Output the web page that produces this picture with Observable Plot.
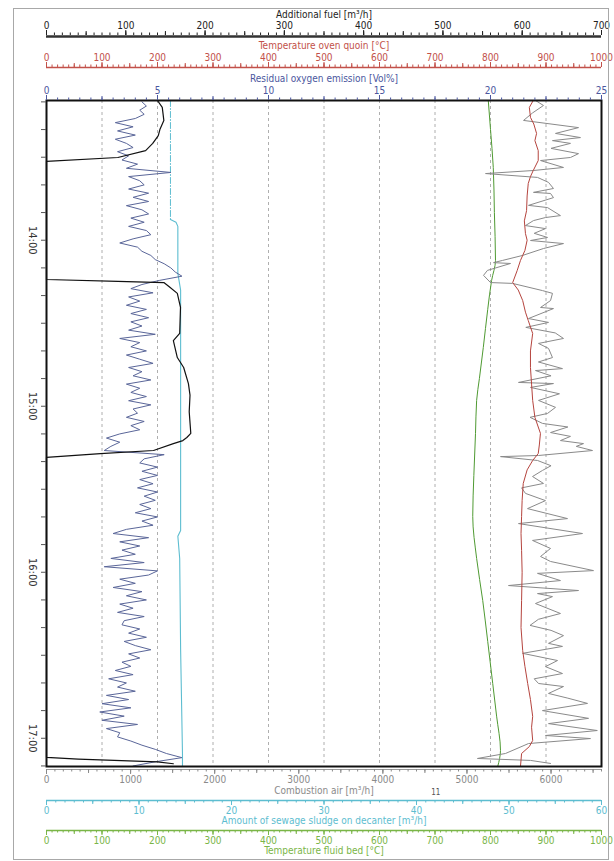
<!DOCTYPE html>
<html><head><meta charset="utf-8">
<script src="https://cdn.jsdelivr.net/npm/d3@7"></script>
<script src="https://cdn.jsdelivr.net/npm/@observablehq/plot@0.6"></script>
<style>
body{margin:0;background:#fff;}
#wrap{position:relative;width:614px;height:861px;}
#border{position:absolute;left:13px;top:8px;width:594px;height:850px;border:1px solid #a8a8a8;pointer-events:none;}
</style></head><body><div id="wrap"><div id="border"></div></div>
<script>
// ---- time base: minutes after 13:00 ----
const T0 = Date.UTC(2000, 0, 1, 13, 0);
const toDate = m => new Date(T0 + m * 60000);
const timeStart = 9.5, timeEnd = 250.2;

// ---- axis maxima / tick labels ----
const fuelMax = 700,   fuelTicks = [0,100,200,300,400,500,600,700];
const ovenMax = 1000,  ovenTicks = [0,100,200,300,400,500,600,700,800,900,1000];
const oxyMax = 25,     oxyTicks = [0,5,10,15,20,25];
const airMax = 6600,   airTicks = [0,1000,2000,3000,4000,5000,6000];
const sludgeMax = 60,  sludgeTicks = [0,10,20,30,40,50,60];
const bedMax = 1000,   bedTicks = [0,100,200,300,400,500,600,700,800,900,1000];
const gridFractions = [0.1,0.2,0.3,0.4,0.5,0.6,0.7,0.8,0.9];
const hourLabels = [60, 120, 180, 240];

// ---- Additional fuel [m³/h] ----
const fuelTime  = [9.5,12,16.7,20,22.2,25.0,27.6,30.1,31.5,74.2,74.9,75.3,77.1,79.2,84.3,93.7,96.3,102.4,106.0,111.8,116,122,129.8,131.3,132.4,133.5,136.0,137.1,138.5,246.9,247.5,248.5,249.2];
const fuelValue = [140,146,148,143,141,134,125,90,0,0,90,148,156,165,169,168,160,165,173,179,181,180,182,177,172,160,135,68,0,0,40,140,160];

// ---- Temperature oven quoin [°C] ----
const ovenTime  = [9.5,12,15.6,18,21.4,24,27.6,31.2,34.8,37,39.5,44,49.3,53,57.6,60,63.7,67.3,71,75.3,78,81.8,86,89.0,93.7,100,106.0,112,117.9,124,129.8,134,137.1,139.6,143,147.9,154,159.8,166,172.1,180,190.2,200,208.3,214,220.2,226,232.1,236,240.8,243,245.5,250.2];
const ovenValue = [877,870,872,878,883,880,886,886,877,872,868,866,865,861,863,866,862,854,848,840,850,858,863,868,876,872,872,874,876,880,890,888,886,876,866,859,857,856,855,856,857,856,855,858,862,867,872,876,874,876,870,856,854];

// ---- Temperature fluid bed [°C] ----
const bedTime  = [9.5,20,33.7,50,67.3,74.5,85,98.8,110,117.9,129.8,145,159.8,175,190.2,205,220.2,232,244.4,250.2];
const bedValue = [796,800,805,807,809,802,795,787,780,775,773,770,768,775,786,795,804,811,818,813];

// ---- Amount of sewage sludge on decanter [m³/h] ----
const sludgeGapTime  = [9.5, 52.5];
const sludgeGapValue = [13.4, 13.4];
const sludgeTime  = [52.5,53.5,55,72,78,120,164.9,167,175,208,245.5,250.2];
const sludgeValue = [13.4,14.0,14.2,14.2,14.5,14.5,14.5,14.2,14.4,14.5,14.7,14.7];

// ---- Combustion air [m³/h] ----
const airTime  = [9.5,11.3,14,16.7,19.3,21.4,22.9,24.0,25.0,26.8,28.7,30.1,31.2,33.7,34.8,35.9,37.3,39.1,41.3,42.7,43.1,44.6,47.4,48.2,51.1,51.8,52.9,54.7,55.8,57.5,59.0,60.1,61.2,63.0,65.5,67.3,68.1,68.4,70.9,72.7,75.3,75.6,78.2,79.2,81.8,84.3,84.7,88.3,89.7,91.5,93.5,95.5,97.3,99.1,102.4,104,106.4,107.1,109,111.4,111.8,113.2,115.5,117.9,120.4,122.6,124,126.2,127.5,129.5,130.9,132.4,133.5,134.5,136.0,137.8,138.2,139.6,141.5,143.2,145.4,147.9,149.5,151.5,154.1,157.0,160.6,162.4,166.0,168.5,171.4,174.3,176.1,179.4,180.4,183.0,184.8,186.6,187.7,188.8,191.3,194.9,197,199.2,201,202.9,205.7,206.8,209.3,211.9,214.1,216.6,218.5,220.2,221.3,223.8,225.5,227.4,230.0,232.8,234.7,237.2,239.0,240.1,241.9,245.5,247.3,248.0,249.1];
const airValue = [5815,5910,5780,5673,6327,6053,6350,6017,6231,6000,6327,6231,5875,6148,5791,5221,5839,5970,6029,5791,5994,6029,5732,5958,6112,5934,5791,5696,5934,5800,5958,5756,6148,5910,5661,5423,5316,5518,5244,5197,5280,5542,5898,6017,5994,5875,6029,5732,5970,5700,6050,6148,5851,5970,6017,5850,6136,5815,6000,5613,6029,5756,6100,5851,6053,5958,5750,5898,6200,5994,6231,6112,6386,6300,6493,5851,5399,5839,6000,5898,5780,5910,5650,5696,5934,5720,6196,5613,6374,5780,5994,5875,5994,6505,5839,6112,5494,6327,5839,6017,5815,6112,5850,5750,6000,6148,5970,6136,5661,6077,5934,6136,5800,5851,6148,5970,6200,6434,5898,6446,5970,6550,5934,6469,5732,5458,5125,5756,5994];

// ---- Residual oxygen emission [Vol%], every 1.5 min from 13:10 ----
const oxyStart = 10, oxyStep = 1.5;
const oxyValue = [
 4.3,4.5,4.2,4.4,4.0,3.1,3.9,3.2,4.0,3.1,
 3.6,3.9,3.2,3.7,3.4,4.1,3.6,5.6,3.7,4.2,
 4.4,3.7,4.6,3.9,4.6,3.6,4.3,4.6,3.8,4.4,
 3.7,4.5,4.7,3.9,3.3,4.1,4.3,4.7,4.9,5.3,
 5.6,5.8,6.1,5.1,4.3,3.8,4.8,3.7,4.2,3.6,
 4.5,3.8,4.6,3.8,4.3,3.7,4.9,3.3,4.2,3.8,
 4.5,3.6,4.2,4.8,3.7,4.3,3.9,4.7,3.6,4.2,
 3.8,4.5,3.7,4.7,3.9,4.1,3.6,4.4,3.8,4.2,
 3.3,2.7,3.3,2.9,2.6,5.3,4.4,4.2,5.0,4.3,
 5.0,4.2,4.8,4.1,5.0,4.4,4.9,4.2,4.7,4.0,
 5.0,4.3,4.8,3.6,3.0,4.6,3.3,4.2,3.4,4.0,
 2.9,4.4,2.6,5.0,4.6,3.3,4.0,3.0,4.3,3.6,
 4.5,3.3,3.9,3.2,4.4,3.5,3.4,4.2,3.7,4.5,
 3.5,4.0,4.7,3.7,4.2,3.4,3.8,3.1,3.9,2.8,
 3.6,3.2,4.0,2.7,3.7,2.5,3.8,2.4,3.5,2.5,
 4.1,2.7,3.3,3.2,3.8,4.3,4.9,5.4,6.1,4.9,3.9];

// ---- build tables ----
const zip = (ts, vs) => ts.map((t, i) => ({t: toDate(t), v: vs[i]}));
const fuelData = zip(fuelTime, fuelValue);
const ovenData = zip(ovenTime, ovenValue);
const bedData = zip(bedTime, bedValue);
const sludgeGapData = zip(sludgeGapTime, sludgeGapValue);
const sludgeData = zip(sludgeTime, sludgeValue);
const airData = zip(airTime, airValue);
const oxyData = oxyValue.map((v, i) => ({t: toDate(oxyStart + i * oxyStep), v}));

const FONT = '"Liberation Sans Narrow","DejaVu Sans Condensed","Roboto",sans-serif';
const FS = 10;
const C = {fuel: "#222", oven: "#c2514a", oxy: "#4b579e", air: "#8a8a8a", sludge: "#5dbdd0", bed: "#7ab547"};

function axisSet(max, major, minorStep, midStep, anchor, dy, color) {
  const f = v => v / max;
  const minor = d3.range(0, max + 1e-9, minorStep).map(f);
  const mid = d3.range(0, max + 1e-9, midStep).map(f);
  return [
    Plot.axisX(minor, {anchor, dy, tickSize: 2.5, fill: "none", stroke: color, label: null}),
    Plot.axisX(mid, {anchor, dy, tickSize: 4, fill: "none", stroke: color, label: null}),
    Plot.axisX(major.map(f), {anchor, dy, tickSize: 5, tickPadding: 1, stroke: color, fill: color,
      tickFormat: d => String(Math.round(d * max)), label: null, fontSize: FS})
  ];
}

const yTop = toDate(timeStart), yBot = toDate(timeEnd);

const chart = Plot.plot({
  width: 614, height: 861,
  marginLeft: 46, marginRight: 13, marginTop: 100, marginBottom: 95,
  style: {fontFamily: FONT, fontSize: FS + "px", background: "transparent", overflow: "visible"},
  x: {domain: [0, 1], axis: null},
  y: {type: "utc", domain: [yTop, yBot], reverse: true, axis: null},
  marks: [
    Plot.ruleX(gridFractions, {stroke: "#9a9a9a", strokeWidth: 0.8, strokeDasharray: "3,3"}),
    Plot.line(sludgeGapData, {x: d => d.v / sludgeMax, y: "t", stroke: C.sludge, strokeWidth: 1, strokeDasharray: "6,2,1,2"}),
    Plot.line(sludgeData, {x: d => d.v / sludgeMax, y: "t", stroke: C.sludge, strokeWidth: 1.1}),
    Plot.line(bedData, {x: d => d.v / bedMax, y: "t", stroke: "#4f9a32", strokeWidth: 1, curve: "monotone-y"}),
    Plot.line(airData, {x: d => d.v / airMax, y: "t", stroke: C.air, strokeWidth: 1}),
    Plot.line(ovenData, {x: d => d.v / ovenMax, y: "t", stroke: "#b5443e", strokeWidth: 1}),
    Plot.line(oxyData, {x: d => d.v / oxyMax, y: "t", stroke: "#5a6699", strokeWidth: 1}),
    Plot.line(fuelData, {x: d => d.v / fuelMax, y: "t", stroke: "#111", strokeWidth: 1.2}),
    Plot.frame({stroke: "#111", strokeWidth: 2}),
    // time axis (left)
    Plot.axisY(d3.utcMinute.every(10).range(toDate(10), toDate(251)), {anchor: "left", tickSize: 5, fill: "none", stroke: "#555", label: null}),
    Plot.axisY(hourLabels.map(toDate), {anchor: "left", tickSize: 0, tickPadding: 10, tickRotate: 90,
      tickFormat: d3.utcFormat("%H:%M"), fill: "#333", fontSize: 11, label: null}),
    // top axes
    Plot.ruleY([yTop], {dy: -64, stroke: "#333", strokeWidth: 2.5}),
    ...axisSet(fuelMax, fuelTicks, 10, 50, "top", -66, C.fuel),
    Plot.text(["Additional fuel [m³/h]"], {frameAnchor: "top", dy: -90, fill: C.fuel, fontSize: FS}),
    Plot.ruleY([yTop], {dy: -33, stroke: C.oven, strokeWidth: 1.5}),
    ...axisSet(ovenMax, ovenTicks, 10, 50, "top", -34, C.oven),
    Plot.text(["Temperature oven quoin [°C]"], {frameAnchor: "top", dy: -59, fill: C.oven, fontSize: FS}),
    ...axisSet(oxyMax, oxyTicks, 0.5, 2.5, "top", -1, C.oxy),
    Plot.text(["Residual oxygen emission [Vol%]"], {frameAnchor: "top", dy: -26, fill: C.oxy, fontSize: FS}),
    // bottom axes
    Plot.ruleY([yBot], {dy: 3, stroke: "#9a9a9a", strokeWidth: 1}),
    ...axisSet(airMax, airTicks, 100, 500, "bottom", 3, C.air),
    Plot.text(["Combustion air [m³/h]"], {frameAnchor: "bottom", dy: 27, fill: C.air, fontSize: FS}),
    Plot.text(["11"], {x: 4630 / airMax, frameAnchor: "bottom", dy: 28, fill: "#555", fontSize: 8}),
    Plot.ruleY([yBot], {dy: 34, stroke: C.sludge, strokeWidth: 1.5}),
    ...axisSet(sludgeMax, sludgeTicks, 1, 5, "bottom", 34, C.sludge),
    Plot.text(["Amount of sewage sludge on decanter [m³/h]"], {frameAnchor: "bottom", dy: 57.5, fill: C.sludge, fontSize: FS}),
    Plot.ruleY([yBot], {dy: 64, stroke: C.bed, strokeWidth: 1.5}),
    ...axisSet(bedMax, bedTicks, 10, 50, "bottom", 64, C.bed),
    Plot.text(["Temperature fluid bed [°C]"], {frameAnchor: "bottom", dy: 87.5, fill: C.bed, fontSize: FS})
  ]
});
document.getElementById("wrap").prepend(chart);
</script>
</body></html>
